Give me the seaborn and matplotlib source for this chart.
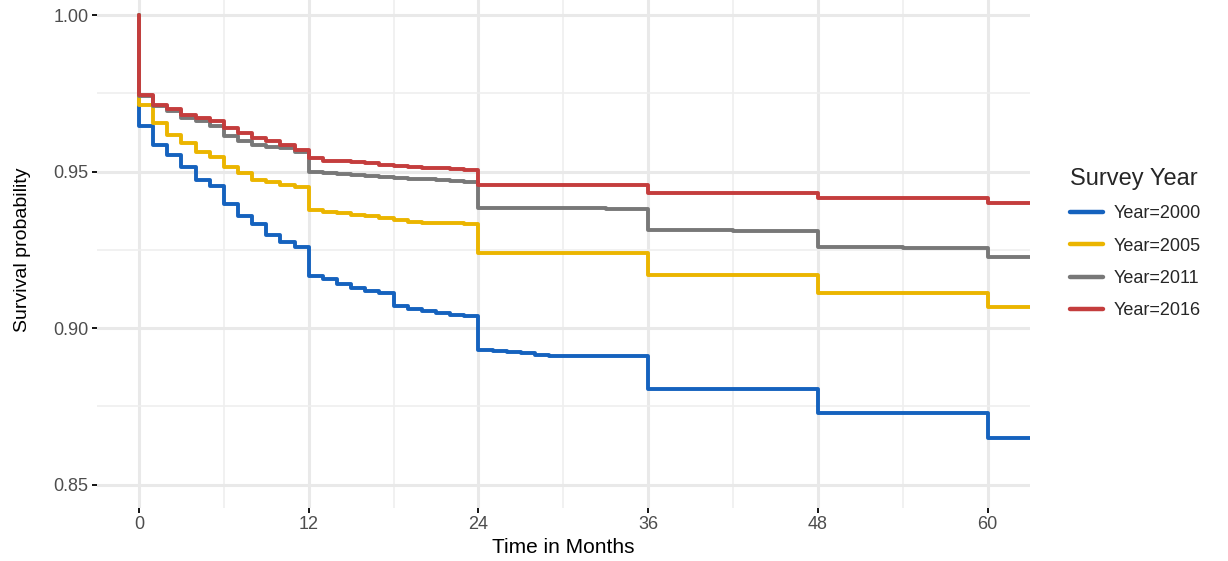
import pandas as pd
import matplotlib
matplotlib.use('Agg')
import matplotlib.pyplot as plt
import seaborn as sns

# Kaplan-Meier style step values (month, survival)
months_2000 = [0, 0, 1, 2, 3, 4, 5, 6, 7, 8, 9, 10, 11, 12, 13, 14, 15, 16, 17, 18, 19, 20,
               21, 22, 23, 24, 25, 26, 27, 28, 29, 30, 36, 48, 60, 64]
surv_2000 = [1.0, 0.9646, 0.9585, 0.9553, 0.9516, 0.9474, 0.9453, 0.9395, 0.9357, 0.9332,
             0.9298, 0.9274, 0.9258, 0.9165, 0.9158, 0.9142, 0.9128, 0.9117, 0.9112, 0.9070,
             0.9061, 0.9054, 0.9048, 0.9043, 0.9038, 0.8931, 0.8927, 0.8923, 0.8919, 0.8915,
             0.8912, 0.8910, 0.8804, 0.8727, 0.8650, 0.8650]

months_2005 = [0, 0, 1, 2, 3, 4, 5, 6, 7, 8, 9, 10, 11, 12, 13, 14, 15, 16, 17, 18, 19, 20,
               21, 22, 23, 24, 36, 48, 60, 64]
surv_2005 = [1.0, 0.9712, 0.9654, 0.9617, 0.9591, 0.9564, 0.9548, 0.9516, 0.9495, 0.9474,
             0.9465, 0.9458, 0.9452, 0.9376, 0.9371, 0.9367, 0.9362, 0.9357, 0.9353, 0.9344,
             0.9340, 0.9337, 0.9336, 0.9335, 0.9333, 0.9240, 0.9171, 0.9112, 0.9066, 0.9066]

months_2011 = [0, 0, 1, 2, 3, 4, 5, 6, 7, 8, 9, 10, 11, 12, 13, 14, 15, 16, 17, 18, 19, 20,
               21, 22, 23, 24, 33, 36, 42, 48, 54, 60, 64]
surv_2011 = [1.0, 0.9742, 0.9710, 0.9692, 0.9670, 0.9660, 0.9646, 0.9614, 0.9596, 0.9585,
             0.9580, 0.9575, 0.9561, 0.9500, 0.9495, 0.9493, 0.9490, 0.9487, 0.9482, 0.9479,
             0.9477, 0.9475, 0.9472, 0.9470, 0.9468, 0.9383, 0.9381, 0.9312, 0.9310, 0.9258,
             0.9256, 0.9227, 0.9227]

months_2016 = [0, 0, 1, 2, 3, 4, 5, 6, 7, 8, 9, 10, 11, 12, 13, 14, 15, 16, 17, 18, 19, 20,
               21, 22, 23, 24, 36, 48, 60, 64]
surv_2016 = [1.0, 0.9745, 0.9713, 0.9699, 0.9681, 0.9670, 0.9660, 0.9639, 0.9623, 0.9607,
             0.9596, 0.9585, 0.9569, 0.9543, 0.9535, 0.9533, 0.9529, 0.9527, 0.9522, 0.9518,
             0.9514, 0.9512, 0.9510, 0.9508, 0.9506, 0.9458, 0.9431, 0.9417, 0.9399, 0.9399]

strata = ['Year=2000', 'Year=2005', 'Year=2011', 'Year=2016']
colors = ['#1562BE', '#EBB500', '#787878', '#C43D3D']

x_major = [0, 12, 24, 36, 48, 60]
x_minor = [6, 18, 30, 42, 54]
y_major = [0.85, 0.90, 0.95, 1.00]
y_minor = [0.875, 0.925, 0.975]

parts = []
for name, t, s in zip(strata,
                      [months_2000, months_2005, months_2011, months_2016],
                      [surv_2000, surv_2005, surv_2011, surv_2016]):
    parts.append(pd.DataFrame({'month': t, 'surv': s, 'strata': name}))
df = pd.concat(parts, ignore_index=True)

sns.set_theme(style='white')
plt.rcParams['font.family'] = ['Liberation Sans', 'DejaVu Sans']

fig = plt.figure(figsize=(12.28, 5.61), dpi=100)
ax = fig.add_axes([0.0787, 0.0945, 0.7601, 0.9205])

# grid first so the curves sit on top
for xv in x_major:
    ax.axvline(xv, color='#E9E9E9', lw=2.2, zorder=0)
for xv in x_minor:
    ax.axvline(xv, color='#EFEFEF', lw=1.2, zorder=0)
for yv in y_major:
    ax.axhline(yv, color='#E9E9E9', lw=2.2, zorder=0)
for yv in y_minor:
    ax.axhline(yv, color='#EFEFEF', lw=1.2, zorder=0)

sns.lineplot(data=df, x='month', y='surv', hue='strata', hue_order=strata,
             palette=colors, estimator=None, sort=False, drawstyle='steps-post',
             linewidth=2.8, ax=ax)

ax.set_xlim(-3, 63)
ax.set_ylim(0.8425, 1.0075)
ax.set_xticks(x_major)
ax.set_xticklabels([str(v) for v in x_major])
ax.set_yticks(y_major)
ax.set_yticklabels([f'{v:.2f}' for v in y_major])
ax.tick_params(axis='both', which='major', length=3.5, width=1.3, color='black',
               labelsize=13, labelcolor='#4D4D4D', pad=2.5, bottom=True, left=True)
for sp in ax.spines.values():
    sp.set_visible(False)

ax.set_xlabel('Time in Months', fontsize=15, color='black')
ax.set_ylabel('Survival probability', fontsize=14, color='black')
ax.xaxis.set_label_coords(0.5, -0.058)
ax.yaxis.set_label_coords(-0.07, 0.5)

leg = ax.legend(title='Survey Year', loc='upper left', frameon=False,
                bbox_to_anchor=(1070 / 1228, 1 - 168 / 561),
                bbox_transform=fig.transFigure, fontsize=13, title_fontsize=17,
                handlelength=1.85, handletextpad=0.55, labelspacing=0.85,
                borderpad=0, borderaxespad=0, alignment='left')
for line in leg.get_lines():
    line.set_linewidth(3.2)

fig.savefig('out.png', dpi=100)
